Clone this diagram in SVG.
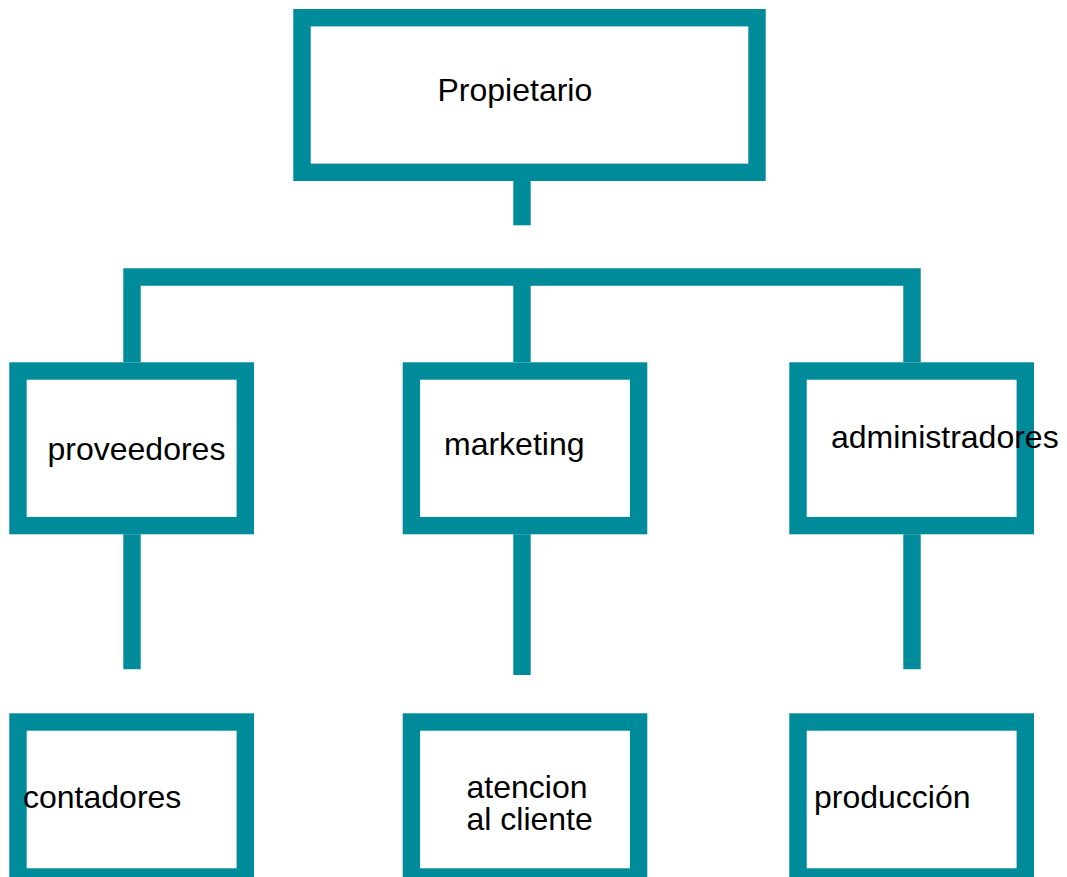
<svg xmlns="http://www.w3.org/2000/svg" width="1067" height="877" viewBox="0 0 1067 877">
<style>
.box{fill:#fff;stroke:#008B9A;stroke-width:17.4}
.conn{fill:none;stroke:#008B9A;stroke-width:17.4;stroke-linejoin:miter;stroke-linecap:butt}
.lbl{font-family:"Liberation Sans",Arial,sans-serif;font-size:32px;fill:#000}
</style>
<rect width="1067" height="877" fill="#fff"/>
<g id="connectors">
<path class="conn" d="M522 181V225.3"/>
<path class="conn" d="M132 362.3V277H912V362.3"/>
<path class="conn" d="M522 277V362.3"/>
<path class="conn" d="M132 534.3V669.3"/>
<path class="conn" d="M522 534.3V675"/>
<path class="conn" d="M912 534.3V669.3"/>
</g>
<g id="propietario">
<rect class="box" x="302" y="17.7" width="455" height="154.6"/>
<text class="lbl" x="437.5" y="101">Propietario</text>
</g>
<g id="proveedores">
<rect class="box" x="18" y="371" width="227.3" height="154.6"/>
<text class="lbl" x="47.5" y="460">proveedores</text>
</g>
<g id="marketing">
<rect class="box" x="411.4" y="371" width="227.2" height="154.6"/>
<text class="lbl" x="444" y="455">marketing</text>
</g>
<g id="administradores">
<rect class="box" x="798" y="371" width="227.3" height="154.6"/>
<text class="lbl" x="831" y="448.3">administradores</text>
</g>
<g id="contadores">
<rect class="box" x="18" y="722" width="227.3" height="155"/>
<text class="lbl" x="23" y="808.3">contadores</text>
</g>
<g id="atencion">
<rect class="box" x="411.4" y="722" width="227.2" height="155"/>
<text class="lbl" x="466.5" y="798.3">atencion</text>
<text class="lbl" x="466.5" y="830">al cliente</text>
</g>
<g id="produccion">
<rect class="box" x="798" y="722" width="227.3" height="155"/>
<text class="lbl" x="814" y="808.3">producción</text>
</g>
</svg>
